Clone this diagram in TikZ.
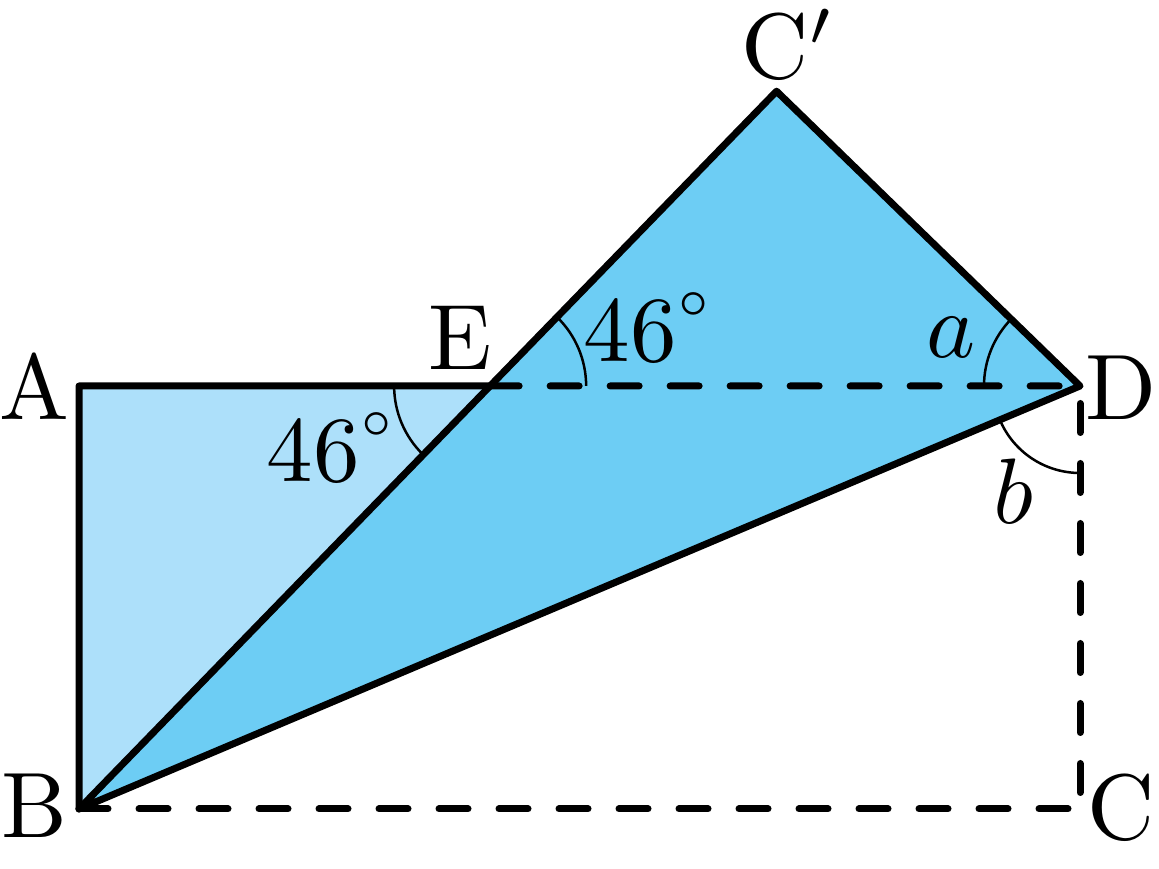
\documentclass[tikz,border=0pt]{standalone}
\usetikzlibrary{calc,angles}
\definecolor{lightfill}{RGB}{173,224,250}
\definecolor{darkfill}{RGB}{109,205,244}
\newcommand{\degsym}{\raisebox{5pt}{$\scriptscriptstyle\circ$}}
\begin{document}
\begin{tikzpicture}[x=1pt,y=1pt,
  solidedge/.style={line width=7pt,line join=round,line cap=round},
  dashedge/.style={line width=7pt,line cap=round,dash pattern=on 29pt off 31pt},
  anglearc/.style={draw,line width=2.5pt},
  lbl/.style={inner sep=0pt,scale=9.3}]
\useasboundingbox (0,0) rectangle (1159,869);
\coordinate (A) at (79,483);
\coordinate (B) at (79,60);
\coordinate (C) at (1080,60);
\coordinate (D) at (1080,483);
\coordinate (P) at ($(B)!(C)!(D)$);
\coordinate (Cp) at ($(C)!2!(P)$);
\coordinate (E) at (intersection of B--Cp and A--D);
% fills
\fill[lightfill] (A) -- (B) -- (E) -- cycle;
\fill[darkfill] (B) -- (Cp) -- (D) -- cycle;
% dashed lines
\draw[dashedge] (E) -- (D);
\draw[dashedge] (B) -- (C);
\draw[dashedge,dash phase=42.5pt] (D) -- (C);
% angle arcs
\pic[anglearc,angle radius=96pt]{angle=D--E--Cp};
\pic[anglearc,angle radius=96pt]{angle=A--E--B};
\pic[anglearc,angle radius=96pt]{angle=Cp--D--E};
\pic[anglearc,angle radius=87pt]{angle=B--D--C};
% solid edges
\draw[solidedge] (E) -- (A) -- (B);
\draw[solidedge] (B) -- (Cp) -- (D) -- cycle;
% labels
\node[lbl] (lA) at (34,482.5) {A};
\node[lbl] (lB) at (34,63) {B};
\node[lbl] (lC) at (1121,61) {C};
\node[lbl] (lD) at (1121,481) {D};
\node[lbl] (lE) at (460,531) {E};
\node[lbl,anchor=base west] (lCp) at (740,790) {C$'$};
\node[lbl,anchor=base west] (ang1) at (582,507) {46\degsym};
\node[lbl,anchor=base west] (ang2) at (265,387) {46\degsym};
\node[lbl,anchor=base west] (la) at (925,511) {$a$};
\node[lbl,anchor=base west] (lb) at (992,345) {$b$};
\end{tikzpicture}
\end{document}
